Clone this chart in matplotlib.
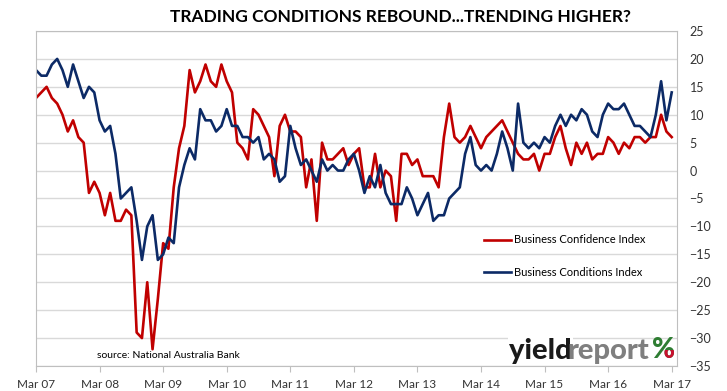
import matplotlib
matplotlib.use('Agg')
import matplotlib.pyplot as plt
import numpy as np

plt.rcParams['font.family'] = ['Lato', 'DejaVu Sans']

# monthly, Mar 07 .. Mar 17
months = np.arange(121)
years = ['07', '08', '09', '10', '11', '12', '13', '14', '15', '16', '17']
tick_labels = ['Mar ' + y for y in years]

confidence = [13, 14, 15, 13, 12, 10, 7, 9, 6, 5,
              -4, -2, -4, -8, -4, -9, -9, -7, -8, -29,
              -30, -20, -32, -23, -13, -14, -3, 4, 8, 18,
              14, 16, 19, 16, 15, 19, 16, 14, 5, 4,
              2, 11, 10, 8, 6, -1, 8, 10, 7, 7,
              6, -3, 2, -9, 5, 2, 2, 3, 4, 1,
              3, 4, -3, -3, 3, -3, 0, -1, -9, 3,
              3, 1, 2, -1, -1, -1, -3, 6, 12, 6,
              5, 6, 8, 6, 4, 6, 7, 8, 9, 7,
              5, 3, 2, 2, 3, 0, 3, 3, 6, 8,
              4, 1, 5, 3, 5, 2, 3, 3, 6, 5,
              3, 5, 4, 6, 6, 5, 6, 6, 10, 7,
              6]

conditions = [18, 17, 17, 19, 20, 18, 15, 19, 16, 13,
              15, 14, 9, 7, 8, 3, -5, -4, -3, -9,
              -16, -10, -8, -16, -15, -12, -13, -3, 1, 4,
              2, 11, 9, 9, 7, 8, 11, 8, 8, 6,
              6, 5, 6, 2, 3, 2, -2, -1, 8, 4,
              1, 2, 0, -2, 2, 0, 1, 0, 0, 2,
              3, 0, -4, -1, -3, 1, -4, -6, -6, -6,
              -3, -5, -8, -6, -4, -9, -8, -8, -5, -4,
              -3, 3, 6, 1, 0, 1, 0, 3, 7, 4,
              0, 12, 5, 4, 5, 4, 6, 5, 8, 10,
              8, 10, 9, 11, 10, 7, 6, 10, 12, 11,
              11, 12, 10, 8, 8, 7, 6, 10, 16, 9,
              14]

red = '#c00000'
navy = '#0c2a66'

fig = plt.figure(figsize=(7.27, 3.91), dpi=100)
ax = fig.add_axes([36/727, 1 - 366/391, (677 - 36)/727, (366 - 31)/391])

ax.plot(months, confidence, color=red, lw=1.9, solid_joinstyle='round', label='Business Confidence Index')
ax.plot(months, conditions, color=navy, lw=1.9, solid_joinstyle='round', label='Business Conditions Index')

ax.set_xlim(0, 121)
ax.set_ylim(-35, 25)
ax.set_yticks(np.arange(-35, 26, 5))
ax.yaxis.tick_right()
ax.tick_params(axis='y', length=0, pad=9, labelsize=9, labelcolor='#333333')
ax.set_xticks(np.arange(0, 121, 12))
ax.set_xticklabels(tick_labels)
ax.tick_params(axis='x', length=4, color='#bfbfbf', pad=5, labelsize=8.5, labelcolor='#333333')
ax.grid(axis='y', color='#d9d9d9', lw=1)
ax.set_axisbelow(True)
for s in ax.spines.values():
    s.set_color('#bfbfbf')

fig.text(400/727, 1 - 17/391, 'TRADING CONDITIONS REBOUND...TRENDING HIGHER?',
         ha='center', va='center', fontsize=12.5, fontweight='bold', color='black')

ax.legend(loc='center left', bbox_to_anchor=(484/727, 1 - 256/391), bbox_transform=fig.transFigure,
          frameon=False, fontsize=8, handlelength=2.4, handletextpad=0.3, labelspacing=1.9,
          borderpad=0, borderaxespad=0)

fig.text(97/727, 1 - 355/391, 'source: National Australia Bank', ha='left', va='center',
         fontsize=7.5, color='black')

# logo
fig.text(509/727, 1 - 351/391, 'yield', ha='left', va='center', fontsize=21, fontweight='black',
         color='#1a1a1a', bbox=dict(facecolor='white', edgecolor='none', pad=1))
fig.text(567/727, 1 - 351/391, 'report', ha='left', va='center', fontsize=21, fontweight='black',
         color='#7f7f7f')
fig.text(652/727, 1 - 350/391, '%', ha='left', va='center', fontsize=20, fontweight='black',
         color='#2e7d32')
pct = fig.text(652/727, 1 - 350/391, '%', ha='left', va='center', fontsize=20, fontweight='black',
               color='#c8102e')
clip = plt.Rectangle((663/727, 0), 0.1, 1 - 350/391, transform=fig.transFigure, visible=False)
fig.add_artist(clip)
pct.set_clip_path(clip)

fig.savefig('out.png', dpi=100)
